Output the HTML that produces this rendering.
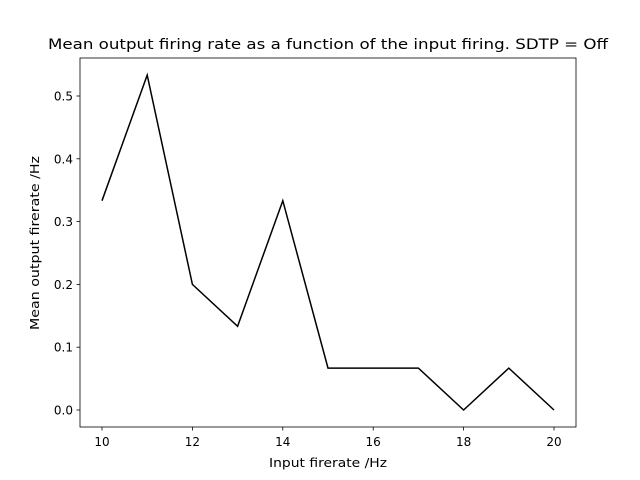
<!DOCTYPE html>
<html><head><meta charset="utf-8"><style>
body{margin:0;background:#fff;}
svg{display:block;font-family:"DejaVu Sans","Liberation Sans",sans-serif;}
</style></head><body>
<svg id="chart" width="640" height="480">
<rect width="640" height="480" fill="#fff"/>
<text x="328" y="49" font-size="14.4" text-anchor="middle" textLength="560" lengthAdjust="spacingAndGlyphs">Mean output firing rate as a function of the input firing. SDTP = Off</text>
<g id="ticks"></g>
<polyline id="series" fill="none" stroke="#000" stroke-width="1.5"/>
<rect x="80" y="58" width="496" height="369" fill="none" stroke="#000" stroke-width="0.8"/>
<text x="328" y="467" font-size="12" text-anchor="middle" textLength="118" lengthAdjust="spacingAndGlyphs">Input firerate /Hz</text>
<text transform="translate(39,243) rotate(-90)" font-size="12" text-anchor="middle" textLength="174" lengthAdjust="spacingAndGlyphs">Mean output firerate /Hz</text>
</svg>
<script>
const xValues=[10,11,12,13,14,15,16,17,18,19,20];
const yValues=[0.3333,0.5333,0.2,0.1333,0.3333,0.0667,0.0667,0.0667,0,0.0667,0];
const xTicks=[10,12,14,16,18,20];
const yTicks=[0.0,0.1,0.2,0.3,0.4,0.5];
const ns="http://www.w3.org/2000/svg";
function sx(v){return 102+(v-10)*45.2;}
function sy(v){return 410-v*628;}
document.getElementById('series').setAttribute('points',xValues.map((x,i)=>sx(x)+','+sy(yValues[i])).join(' '));
const g=document.getElementById('ticks');
xTicks.forEach(t=>{
 const l=document.createElementNS(ns,'line');
 l.setAttribute('x1',sx(t));l.setAttribute('x2',sx(t));l.setAttribute('y1',427);l.setAttribute('y2',430.5);l.setAttribute('stroke','#000');l.setAttribute('stroke-width','0.8');
 
 
 g.appendChild(l);
 const tx=document.createElementNS(ns,'text');
 tx.setAttribute('x',sx(t));tx.setAttribute('y',446);tx.setAttribute('font-size','12');tx.setAttribute('text-anchor','middle');tx.textContent=t;
 
 
 g.appendChild(tx);
});
yTicks.forEach(t=>{
 const l=document.createElementNS(ns,'line');
 l.setAttribute('x1',76.5);l.setAttribute('x2',80);l.setAttribute('y1',sy(t));l.setAttribute('y2',sy(t));l.setAttribute('stroke','#000');l.setAttribute('stroke-width','0.8');
 
 
 g.appendChild(l);
 const tx=document.createElementNS(ns,'text');
 tx.setAttribute('x',73);tx.setAttribute('y',sy(t)+4.5);tx.setAttribute('font-size','12');tx.setAttribute('text-anchor','end');tx.textContent=t.toFixed(1);
 
 
 g.appendChild(tx);
});
</script>
</body></html>
